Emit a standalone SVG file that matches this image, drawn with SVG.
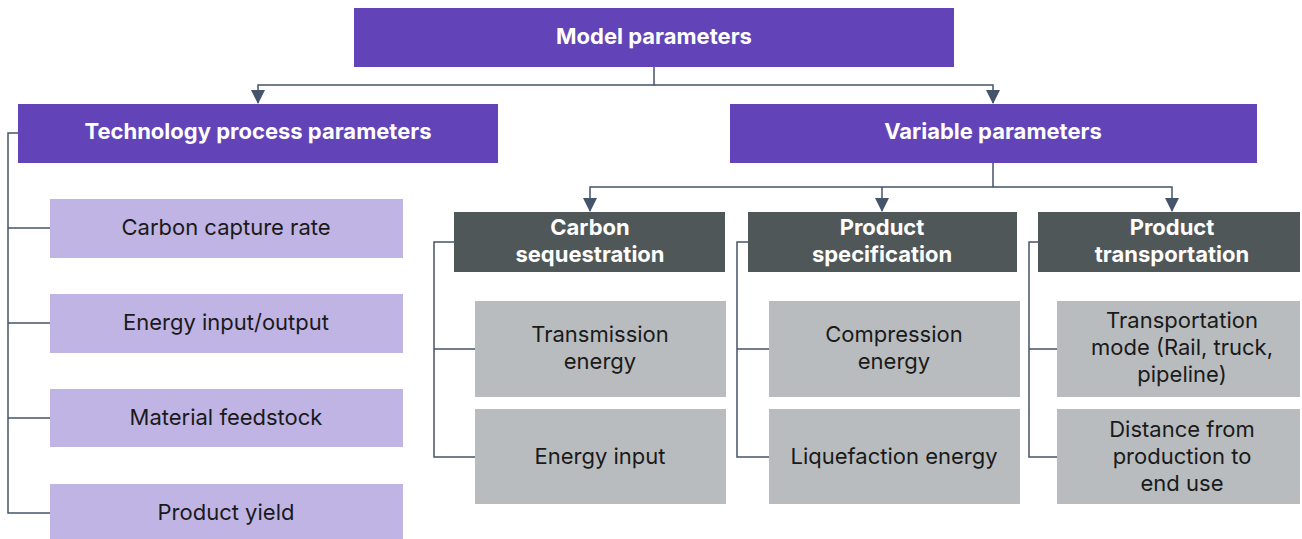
<svg xmlns="http://www.w3.org/2000/svg" width="1302" height="539" viewBox="0 0 1302 539">
<defs>
<marker id="arr" markerWidth="14" markerHeight="14" refX="13" refY="7" orient="auto" markerUnits="userSpaceOnUse" viewBox="0 0 14 14">
<path d="M0,0 L14,7 L0,14 Z" fill="#44546A"/>
</marker>
<style>
text{font-family:"Inter","Liberation Sans",sans-serif;font-size:22px;text-anchor:middle;dominant-baseline:central}
.p rect{fill:#6244B8}
.p text{fill:#fff;font-weight:700}
.d rect{fill:#505759}
.d text{fill:#fff;font-weight:700}
.l rect{fill:#C0B4E4}
.l text{fill:#1a1a1a}
.g rect{fill:#B8BCBE}
.g text{fill:#1a1a1a}
.c path{fill:none;stroke:#44546A;stroke-width:1.5}
</style>
</defs>
<g class="c" id="connectors">
<path d="M654,67 V85 H258 V103" marker-end="url(#arr)"/>
<path d="M654,85 H993 V103" marker-end="url(#arr)"/>
<path d="M993,163 V187 H590 V211" marker-end="url(#arr)"/>
<path d="M882,187 V211" marker-end="url(#arr)"/>
<path d="M993,187 H1172 V211" marker-end="url(#arr)"/>
<path d="M18,133 H8 V513 H50 M8,228 H50 M8,323 H50 M8,418 H50"/>
<path d="M454,242 H434 V457 H475 M434,349 H475"/>
<path d="M748,242 H737 V457 H769 M737,349 H769"/>
<path d="M1038,242 H1029 V457 H1057 M1029,349 H1057"/>
</g>
<g id="model" class="p"><rect x="354" y="8" width="600" height="59"/><text x="654" y="36">Model parameters</text></g>
<g id="tech" class="p"><rect x="18" y="104" width="480" height="59"/><text x="258" y="131">Technology process parameters</text></g>
<g id="variable" class="p"><rect x="730" y="104" width="527" height="59"/><text x="993" y="131">Variable parameters</text></g>
<g id="t1" class="l"><rect x="50" y="199" width="353" height="59"/><text x="226" y="227">Carbon capture rate</text></g>
<g id="t2" class="l"><rect x="50" y="294" width="353" height="59"/><text x="226" y="322">Energy input/output</text></g>
<g id="t3" class="l"><rect x="50" y="389" width="353" height="58"/><text x="226" y="417">Material feedstock</text></g>
<g id="t4" class="l"><rect x="50" y="484" width="353" height="55"/><text x="226" y="512">Product yield</text></g>
<g id="cs" class="d"><rect x="454" y="212" width="271" height="60"/><text x="590" y="227">Carbon</text><text x="590" y="254">sequestration</text></g>
<g id="ps" class="d"><rect x="748" y="212" width="269" height="60"/><text x="882" y="227">Product</text><text x="882" y="254">specification</text></g>
<g id="pt" class="d"><rect x="1038" y="212" width="262" height="60"/><text x="1172" y="227">Product</text><text x="1172" y="254">transportation</text></g>
<g id="cs1" class="g"><rect x="475" y="301" width="251" height="96"/><text x="600" y="334">Transmission</text><text x="600" y="361">energy</text></g>
<g id="cs2" class="g"><rect x="475" y="409" width="251" height="95"/><text x="600" y="456">Energy input</text></g>
<g id="ps1" class="g"><rect x="769" y="301" width="251" height="96"/><text x="894" y="334">Compression</text><text x="894" y="361">energy</text></g>
<g id="ps2" class="g"><rect x="769" y="409" width="251" height="95"/><text x="894" y="456">Liquefaction energy</text></g>
<g id="pt1" class="g"><rect x="1057" y="301" width="243" height="96"/><text x="1182" y="320">Transportation</text><text x="1182" y="347">mode (Rail, truck,</text><text x="1182" y="374">pipeline)</text></g>
<g id="pt2" class="g"><rect x="1057" y="409" width="243" height="95"/><text x="1182" y="429">Distance from</text><text x="1182" y="456">production to</text><text x="1182" y="483">end use</text></g>
</svg>
